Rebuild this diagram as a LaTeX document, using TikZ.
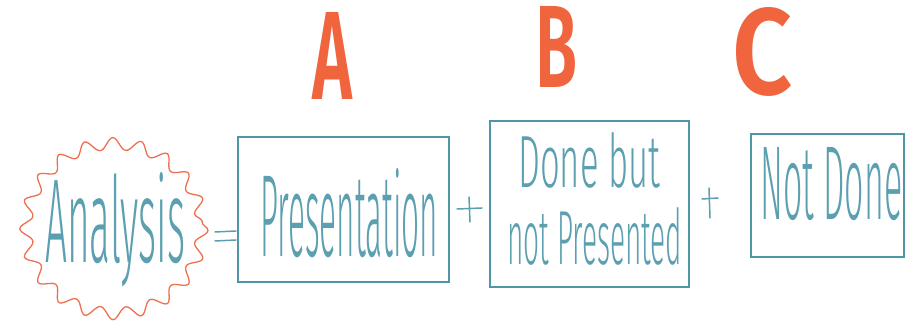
\documentclass[tikz,border=0pt]{standalone}
\usepackage{fontspec}
\usepackage{graphicx}
\setmainfont{Fira Sans}
\newfontfamily\handfont{Fira Sans Light}
\newfontfamily\markfont{Fira Sans SemiBold}
\usetikzlibrary{decorations.pathmorphing}
\definecolor{inkteal}{HTML}{5B9FB0}
\definecolor{boxteal}{HTML}{4E95A6}
\definecolor{inkorange}{HTML}{F0643E}
\definecolor{cloudred}{HTML}{EE7050}
\newcommand{\hwtext}[3]{\resizebox{#1pt}{#2pt}{#3}}
\tikzset{
  hand/.style={text=inkteal, inner sep=0pt, anchor=base west, font=\handfont},
  letter/.style={text=inkorange, inner sep=0pt, anchor=base west, font=\markfont},
  panel/.style={draw=boxteal, line width=2pt, inner sep=0pt},
  signline/.style={draw=inkteal, line width=1.5pt, line cap=round},
  cloudline/.style={draw=cloudred, line width=1.3pt, decorate,
    decoration={snake, segment length=27pt, amplitude=6pt}}
}
\begin{document}
\begin{tikzpicture}[x=1pt,y=-1pt]
\useasboundingbox (0,0) rectangle (906,323);
% cloud around Analysis
\draw[cloudline] (114,222) ellipse [x radius=88, y radius=85];
\node[hand] (analysis) at (45,263) {\hwtext{140}{90}{Analysis}};
% equals sign
\draw[signline] (215,232) -- (236,231);
\draw[signline] (215,241) -- (236,240);
% boxes
\node[panel, minimum width=211pt, minimum height=145pt] (boxA) at (343.5,209.5) {};
\node[panel, minimum width=199pt, minimum height=166pt] (boxB) at (589.5,204) {};
\node[panel, minimum width=153pt, minimum height=123pt] (boxC) at (827.5,195.5) {};
% texts
\node[hand] (tA) at (260,257) {\hwtext{178}{88}{Presentation}};
\node[hand] (tB1) at (518,188) {\hwtext{142}{55}{Done but}};
\node[hand] (tB2) at (507,265) {\hwtext{175}{57}{not Presented}};
\node[hand] (tC) at (760,220) {\hwtext{142}{72}{Not Done}};
% plus signs
\draw[signline] (457,209) -- (482,208);
\draw[signline] (469,197) -- (470,222);
\draw[signline] (702,199) -- (718,198);
\draw[signline] (709,188) -- (710,218);
% letters
\node[letter] (lA) at (312,100) {\hwtext{40}{87}{A}};
\node[letter] (lB) at (535,88) {\hwtext{42}{81}{B}};
\node[letter] (lC) at (732,95) {\hwtext{60}{87}{C}};
\end{tikzpicture}
\end{document}
